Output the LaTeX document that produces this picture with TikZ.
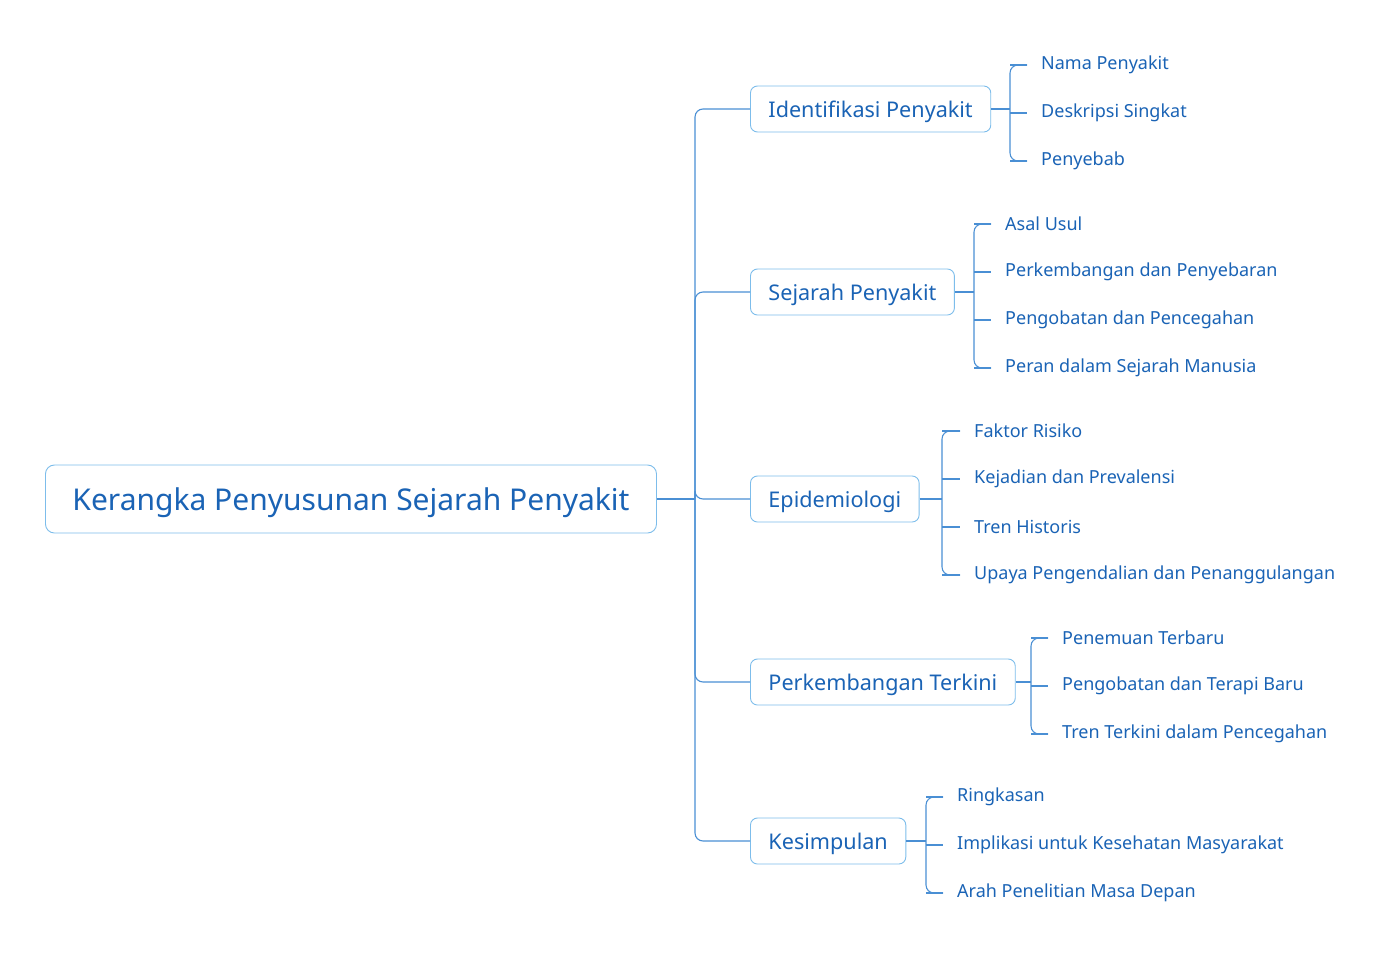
\documentclass[tikz,border=0pt]{standalone}
\usepackage{fontspec}
\setmainfont{Noto Sans}
\definecolor{tx}{HTML}{1A63B5}
\definecolor{bd}{HTML}{7DBDEB}
\definecolor{ln}{HTML}{4A8FD4}
\begin{document}
\begin{tikzpicture}[x=1pt,y=-1pt,
  rootbox/.style={draw=bd,line width=0.9pt,rounded corners=9pt,fill=white,text=tx,font=\fontsize{30}{32}\selectfont,minimum height=68pt,inner xsep=27pt,text height=26pt,text depth=3pt,anchor=west},
  branchbox/.style={draw=bd,line width=0.9pt,rounded corners=7pt,fill=white,text=tx,font=\fontsize{21.6}{24}\selectfont,minimum height=46pt,inner xsep=18pt,text height=20pt,text depth=3pt,anchor=west},
  leaf/.style={text=tx,font=\fontsize{18}{20}\selectfont,inner sep=0pt,anchor=west},
  conn/.style={draw=ln,line width=1.1pt,rounded corners=8pt}]
\useasboundingbox (0,0) rectangle (1400,966);
\node[rootbox] (root) at (45,499) {Kerangka Penyusunan Sejarah Penyakit};
\coordinate (trunk) at (695,499);
\draw[conn] (root.east) -- (trunk);
\foreach \n/\y/\t in {1/109/Identifikasi Penyakit,2/292/Sejarah Penyakit,3/499/Epidemiologi,4/682/Perkembangan Terkini,5/841/Kesimpulan}{
  \node[branchbox] (b\n) at (750,\y) {\t};
  \draw[conn] (trunk) |- (b\n.west);
}
\newcommand{\grp}[6]{% branch, bracket x, text x, list, first, last
  \coordinate (k#1) at (#2,0);
  \foreach \j/\yy/\tt in {#4}{
    \node[leaf] (l#1\j) at (#3,\yy+3) {\tt};
  }
  \draw[conn] (b#1.east) -- (k#1 |- b#1.east);
  \draw[conn] ([xshift=-14pt]l#1#5.west) -| (k#1 |- b#1.east) |- ([xshift=-14pt]l#1#6.west);
  \foreach \j/\yy/\tt in {#4}{
    \draw[conn] (k#1 |- l#1\j.west) -- ([xshift=-14pt]l#1\j.west);
  }
}
\grp{1}{1010}{1041}{1/62/Nama Penyakit,2/110/Deskripsi Singkat,3/158/Penyebab}{1}{3}
\grp{2}{974}{1005}{1/221/Asal Usul,2/269/Perkembangan dan Penyebaran,3/317/Pengobatan dan Pencegahan,4/365/Peran dalam Sejarah Manusia}{1}{4}
\grp{3}{942}{974}{1/428/Faktor Risiko,2/476/Kejadian dan Prevalensi,3/524/Tren Historis,4/572/Upaya Pengendalian dan Penanggulangan}{1}{4}
\grp{4}{1031}{1062}{1/635/Penemuan Terbaru,2/683/Pengobatan dan Terapi Baru,3/731/Tren Terkini dalam Pencegahan}{1}{3}
\grp{5}{926}{957}{1/794/Ringkasan,2/842/Implikasi untuk Kesehatan Masyarakat,3/890/Arah Penelitian Masa Depan}{1}{3}
\end{tikzpicture}
\end{document}
